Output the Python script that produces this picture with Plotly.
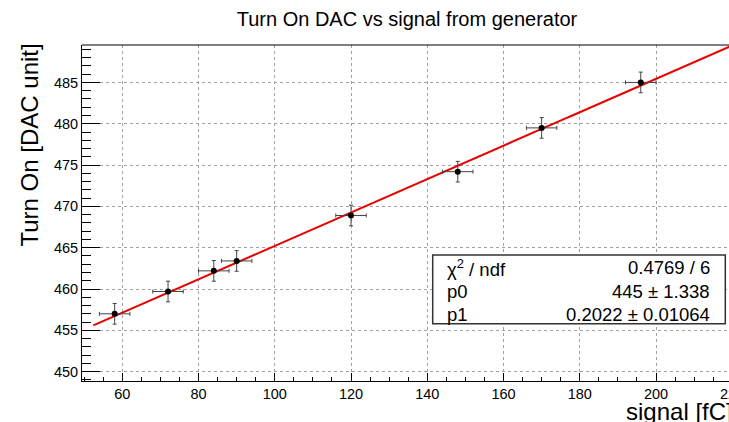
import plotly.graph_objects as go

# Data
signal_fC = [58, 72, 84, 90, 120, 148, 170, 196]
turn_on = [457.0, 459.7, 462.2, 463.4, 468.9, 474.2, 479.5, 485.0]
err_x = [4, 4, 4, 4, 4, 4, 4, 4]
err_y = [1.25, 1.25, 1.25, 1.25, 1.25, 1.25, 1.25, 1.25]

# Fit result (pol1)
p0, p1 = 445.0, 0.2022
fit_range = [52.4, 230.0]
stat_labels = ["χ<sup>2</sup> / ndf", "p0", "p1"]
stat_values = ["0.4769 / 6", "445 ± 1.338", "0.2022 ± 0.01064"]

x_range = [49.43, 219.15]
y_range = [448.87, 489.53]
x_ticks = [60, 80, 100, 120, 140, 160, 180, 200]
y_ticks = [450, 455, 460, 465, 470, 475, 480, 485]

FONT = "Liberation Sans, Arial, Helvetica, sans-serif"

fit_x = [fit_range[0] + (fit_range[1] - fit_range[0]) * i / 200 for i in range(201)]
fit_y = [p0 + p1 * x for x in fit_x]

fig = go.Figure()
fig.add_trace(go.Scatter(x=fit_x, y=fit_y, mode="lines",
                         line=dict(color="#e80000", width=2), hoverinfo="skip"))
fig.add_trace(go.Scatter(
    x=signal_fC, y=turn_on, mode="markers",
    marker=dict(color="black", size=6),
    error_x=dict(type="data", array=err_x, color="#444444", thickness=1, width=2),
    error_y=dict(type="data", array=err_y, color="#444444", thickness=1, width=2),
))

W, H = 729, 422
ml, mr, mt, mb = 82, 0, 45, 41
pw, ph = W - ml - mr, H - mt - mb

def px2paper_x(px):
    return (px - ml) / pw

def px2paper_y(py):
    return (H - mb - py) / ph

fig.update_layout(
    width=W, height=H,
    margin=dict(l=ml, r=mr, t=mt, b=mb),
    paper_bgcolor="white", plot_bgcolor="white",
    showlegend=False,
    font=dict(family=FONT, color="black", size=14.5),
    title=dict(text="Turn On DAC vs signal from generator",
               x=407 / W, xanchor="center", y=1 - 19 / H, yanchor="middle",
               font=dict(family=FONT, size=20, color="black")),
    xaxis=dict(range=x_range, tickvals=x_ticks, ticks="inside", ticklen=8,
               tickcolor="black", showline=True, linecolor="black", linewidth=1,
               showgrid=True, gridcolor="#a0a0a0", griddash="dot", gridwidth=1,
               zeroline=False, tickfont=dict(size=14.5),
               minor=dict(dtick=5, tick0=0, ticks="inside", ticklen=4,
                          tickcolor="black", showgrid=False)),
    yaxis=dict(range=y_range, tickvals=y_ticks, ticks="inside", ticklen=18,
               tickcolor="black", showline=True, linecolor="black", linewidth=1,
               showgrid=True, gridcolor="#a0a0a0", griddash="dot", gridwidth=1,
               zeroline=False, tickfont=dict(size=14.5),
               minor=dict(dtick=1, tick0=0, ticks="inside", ticklen=9,
                          tickcolor="black", showgrid=False)),
)

# top frame line
fig.add_shape(type="line", xref="paper", yref="paper", x0=0, x1=1, y0=1, y1=1,
              line=dict(color="black", width=1))

# partially visible next tick label beyond the window edge
next_tick = 220
fig.add_annotation(text=str(next_tick), xref="paper", yref="paper",
                   x=(next_tick - x_range[0]) / (x_range[1] - x_range[0]), y=0,
                   xanchor="center", yanchor="top", yshift=-3, showarrow=False,
                   font=dict(size=14.5))

# axis titles
fig.add_annotation(text="signal [fC]", xref="paper", yref="paper",
                   x=px2paper_x(624), y=px2paper_y(412), xanchor="left", yanchor="middle",
                   showarrow=False, font=dict(size=24))
fig.add_annotation(text="Turn On [DAC unit]", xref="paper", yref="paper",
                   x=px2paper_x(29), y=px2paper_y(42), xanchor="center", yanchor="top",
                   textangle=-90, showarrow=False, font=dict(size=24))

# stats box
bx0, by0, bx1, by1 = 432.7, 255, 725.3, 323.7
fig.add_shape(type="rect", xref="paper", yref="paper", layer="above",
              x0=px2paper_x(bx0), x1=px2paper_x(bx1), y0=px2paper_y(by1), y1=px2paper_y(by0),
              line=dict(color="#333333", width=1.5), fillcolor="white")
row_centers = [267.7, 291.2, 314.5]
for lab, val, yc in zip(stat_labels, stat_values, row_centers):
    fig.add_annotation(text=lab, xref="paper", yref="paper", x=px2paper_x(445),
                       y=px2paper_y(yc), xanchor="left", yanchor="middle",
                       showarrow=False, font=dict(size=18.5))
    fig.add_annotation(text=val, xref="paper", yref="paper", x=px2paper_x(712),
                       y=px2paper_y(yc), xanchor="right", yanchor="middle",
                       showarrow=False, font=dict(size=18.5))

fig.write_html("out.html")
